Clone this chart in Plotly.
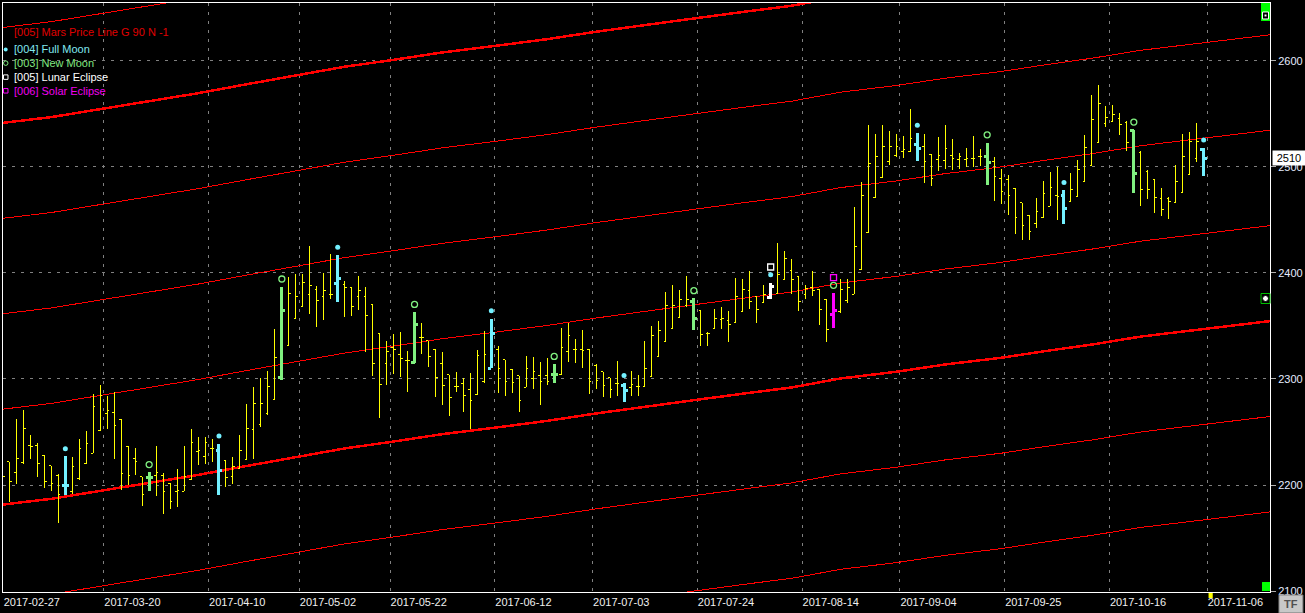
import plotly.graph_objects as go

# ---------------- data ----------------
open_ = [2222, 2222, 2212, 2221, 2237, 2237, 2228, 2218, 2209, 2200,
         2194, 2206, 2220, 2230, 2251, 2267, 2268, 2262, 2236, 2225,
         2208, 2207, 2209, 2209, 2201, 2194, 2194, 2205, 2232, 2227,
         2234, 2233, 2223, 2208, 2216, 2224, 2252, 2257, 2267, 2281,
         2301, 2332, 2357, 2368, 2380, 2384, 2378, 2380, 2390, 2389,
         2386, 2378, 2378, 2370, 2343, 2315, 2330, 2323, 2317, 2316,
         2339, 2336, 2328, 2315, 2304, 2293, 2296, 2290, 2285, 2298,
         2310, 2328, 2318, 2309, 2303, 2292, 2300, 2303, 2303, 2304,
         2304, 2326, 2328, 2328, 2328, 2313, 2307, 2301, 2296, 2294,
         2292, 2293, 2293, 2302, 2321, 2335, 2348, 2358, 2369, 2373,
         2365, 2343, 2348, 2356, 2355, 2353, 2364, 2383, 2378, 2372,
         2377, 2381, 2394, 2402, 2397, 2380, 2386, 2384, 2375, 2361,
         2364, 2374, 2380, 2403, 2438, 2471, 2490, 2505, 2511, 2515,
         2515, 2521, 2519, 2512, 2507, 2506, 2511, 2507, 2507, 2508,
         2510, 2510, 2505, 2489, 2488, 2480, 2466, 2454, 2447, 2452,
         2463, 2473, 2473, 2467, 2472, 2486, 2501, 2523, 2541, 2543,
         2546, 2542, 2534, 2514, 2496, 2488, 2470, 2470, 2466, 2476,
         2493, 2508, 2516]
high = [2234, 2222, 2262, 2271, 2247, 2240, 2228, 2218, 2210, 2227,
        2226, 2243, 2251, 2286, 2294, 2284, 2288, 2262, 2237, 2235,
        2208, 2212, 2237, 2211, 2202, 2215, 2237, 2253, 2245, 2245,
        2243, 2239, 2224, 2226, 2247, 2276, 2292, 2301, 2308, 2347,
        2387, 2396, 2399, 2399, 2425, 2388, 2400, 2418, 2417, 2392,
        2387, 2397, 2387, 2370, 2343, 2336, 2342, 2344, 2326, 2363,
        2353, 2336, 2328, 2325, 2304, 2307, 2301, 2306, 2327, 2345,
        2357, 2331, 2318, 2309, 2303, 2322, 2321, 2316, 2320, 2314,
        2348, 2353, 2338, 2346, 2328, 2314, 2307, 2301, 2317, 2296,
        2308, 2304, 2336, 2350, 2355, 2382, 2389, 2384, 2397, 2376,
        2365, 2344, 2366, 2368, 2364, 2395, 2394, 2402, 2378, 2389,
        2391, 2428, 2421, 2413, 2397, 2389, 2402, 2384, 2375, 2381,
        2394, 2394, 2462, 2486, 2540, 2531, 2540, 2534, 2531, 2529,
        2555, 2532, 2531, 2512, 2528, 2540, 2526, 2513, 2518, 2529,
        2517, 2523, 2509, 2498, 2492, 2480, 2466, 2455, 2471, 2487,
        2495, 2500, 2478, 2494, 2507, 2530, 2568, 2577, 2557, 2558,
        2551, 2543, 2535, 2515, 2497, 2488, 2480, 2472, 2502, 2531,
        2533, 2541, 2518]
low = [2200, 2184, 2201, 2220, 2225, 2208, 2197, 2194, 2164, 2191,
       2192, 2205, 2220, 2230, 2251, 2253, 2225, 2195, 2200, 2209,
       2180, 2194, 2190, 2173, 2177, 2179, 2194, 2205, 2219, 2220,
       2222, 2191, 2198, 2201, 2215, 2224, 2225, 2255, 2266, 2280,
       2299, 2332, 2357, 2368, 2361, 2349, 2356, 2375, 2373, 2358,
       2359, 2365, 2325, 2303, 2263, 2294, 2305, 2302, 2288, 2315,
       2324, 2311, 2283, 2275, 2265, 2288, 2269, 2253, 2285, 2296,
       2310, 2287, 2284, 2287, 2269, 2292, 2291, 2275, 2294, 2296,
       2304, 2316, 2315, 2310, 2286, 2291, 2283, 2282, 2284, 2278,
       2284, 2284, 2292, 2302, 2321, 2335, 2348, 2358, 2368, 2346,
       2331, 2331, 2348, 2347, 2335, 2353, 2364, 2366, 2353, 2372,
       2375, 2381, 2394, 2380, 2364, 2375, 2378, 2351, 2335, 2348,
       2362, 2372, 2380, 2403, 2438, 2471, 2490, 2502, 2509, 2508,
       2514, 2506, 2485, 2482, 2496, 2498, 2497, 2498, 2500, 2500,
       2501, 2483, 2468, 2465, 2455, 2437, 2431, 2431, 2442, 2452,
       2463, 2450, 2446, 2467, 2472, 2486, 2501, 2523, 2538, 2542,
       2530, 2515, 2475, 2463, 2470, 2457, 2454, 2451, 2466, 2476,
       2493, 2505, 2491]
close = [2208, 2203, 2225, 2253, 2236, 2220, 2203, 2201, 2191, 2200,
         2217, 2234, 2239, 2274, 2284, 2270, 2256, 2211, 2209, 2222,
         2191, 2207, 2212, 2194, 2184, 2195, 2208, 2240, 2233, 2240,
         2234, 2214, 2207, 2217, 2233, 2253, 2277, 2277, 2293, 2320,
         2365, 2381, 2378, 2391, 2388, 2374, 2383, 2380, 2395, 2386,
         2368, 2383, 2360, 2315, 2295, 2326, 2328, 2319, 2317, 2351,
         2339, 2321, 2301, 2294, 2283, 2293, 2284, 2280, 2322, 2323,
         2343, 2310, 2298, 2297, 2280, 2310, 2307, 2298, 2298, 2304,
         2330, 2341, 2328, 2327, 2298, 2299, 2294, 2290, 2296, 2289,
         2295, 2293, 2310, 2341, 2346, 2369, 2369, 2375, 2375, 2357,
         2342, 2343, 2357, 2357, 2351, 2378, 2384, 2373, 2366, 2380,
         2387, 2399, 2414, 2394, 2373, 2385, 2383, 2366, 2347, 2365,
         2384, 2386, 2425, 2473, 2503, 2510, 2519, 2519, 2519, 2516,
         2527, 2517, 2505, 2489, 2511, 2517, 2508, 2510, 2508, 2508,
         2510, 2504, 2491, 2477, 2473, 2452, 2445, 2439, 2458, 2475,
         2481, 2472, 2461, 2479, 2498, 2518, 2545, 2560, 2547, 2549,
         2540, 2523, 2494, 2479, 2479, 2471, 2460, 2467, 2486, 2510,
         2524, 2524, 2508]

full_moon_idx = [9, 31, 48, 70, 89, 110, 131, 152, 172]
new_moon_idx = [21, 40, 59, 79, 99, 119, 141, 162]
lunar_eclipse_idx = [110]
solar_eclipse_idx = [119]

tick_pos = [0.1, 14.5, 29.5, 42.5, 55.5, 70.5, 84.5, 99.5, 114.5, 128.5,
            143.5, 158.5, 172.5]
tick_labels = ["2017-02-27", "2017-03-20", "2017-04-10", "2017-05-02",
               "2017-05-22", "2017-06-12", "2017-07-03", "2017-07-24",
               "2017-08-14", "2017-09-04", "2017-09-25", "2017-10-16",
               "2017-11-06"]
price_ticks = [2100, 2200, 2300, 2400, 2500, 2600]
last_price_label = "2510"

mars_idx = [0, 7, 14, 21, 28, 35, 42, 49, 56, 63, 71, 78, 85, 92, 99, 107,
            113, 120, 128, 135, 143, 149, 156, 163, 170, 178, 182]
mars_base = [2181.5, 2187, 2194.5, 2202, 2209.5, 2218, 2226, 2234.5, 2241,
             2248, 2254.5, 2260.5, 2267.5, 2274, 2280, 2287, 2292, 2300.5,
             2306.8, 2313.7, 2320, 2326, 2332.5, 2340, 2345.5, 2352, 2355]
mars_step = 90
mars_harmonics = [-2, -1, 0, 1, 2, 3, 4, 5]

# ---------------- layout constants ----------------
W, H = 1305, 613
ML, MR, MT, MB = 2, 33, 2, 21
PW, PH = W - ML - MR, H - MT - MB
BAR_PX = 7.0
X0 = 0.5 / BAR_PX
X1 = X0 + PW / BAR_PX
Y0, Y1 = 2099.1, 2654.6
FONT = "Liberation Sans, Arial, sans-serif"

YELLOW = "#FFFF00"
CYAN = "#73F0FF"
GREEN = "#80F080"
WHITE = "#FFFFFF"
MAGENTA = "#FF00FF"
RED = "#FF0000"
GRID = "#808080"


def pxx(x):
    return (x - ML) / PW


def pxy(y):
    return (H - MB - y) / PH


def ohlc_xy(idx, tick):
    xs, ys = [], []
    for i in idx:
        xs += [i, i, None, i - tick, i, None, i, i + tick, None]
        ys += [low[i], high[i], None, open_[i], open_[i], None,
               close[i], close[i], None]
    return xs, ys


fig = go.Figure()

# Mars price lines
for n in mars_harmonics:
    fig.add_trace(go.Scatter(
        x=mars_idx, y=[b + n * mars_step for b in mars_base],
        mode="lines", line=dict(color=RED, width=2.5 if n % 4 == 0 else 1),
        hoverinfo="skip", showlegend=False))

special = set(full_moon_idx) | set(new_moon_idx) | set(lunar_eclipse_idx) | set(solar_eclipse_idx)
normal_idx = [i for i in range(len(close)) if i not in special]
fm_bars = [i for i in full_moon_idx if i not in lunar_eclipse_idx]
nm_bars = [i for i in new_moon_idx if i not in solar_eclipse_idx]

xs, ys = ohlc_xy(normal_idx, 0.3)
fig.add_trace(go.Scatter(x=xs, y=ys, mode="lines",
                         line=dict(color=YELLOW, width=1), hoverinfo="skip",
                         showlegend=False))
for idx, col in [(fm_bars, CYAN), (nm_bars, GREEN),
                 (lunar_eclipse_idx, WHITE), (solar_eclipse_idx, MAGENTA)]:
    xs, ys = ohlc_xy(idx, 0.5)
    fig.add_trace(go.Scatter(x=xs, y=ys, mode="lines",
                             line=dict(color=col, width=3), hoverinfo="skip",
                             showlegend=False))

GAP = 7.3
moon = set(full_moon_idx) | set(new_moon_idx)
fig.add_trace(go.Scatter(
    x=full_moon_idx, y=[high[i] + GAP for i in full_moon_idx], mode="markers",
    marker=dict(symbol="circle", size=5, color=CYAN, line=dict(width=0)),
    hoverinfo="skip", showlegend=False))
fig.add_trace(go.Scatter(
    x=new_moon_idx, y=[high[i] + GAP for i in new_moon_idx], mode="markers",
    marker=dict(symbol="circle-open", size=6, color=GREEN,
                line=dict(width=1.3, color=GREEN)),
    hoverinfo="skip", showlegend=False))
for idx, col in [(lunar_eclipse_idx, WHITE), (solar_eclipse_idx, MAGENTA)]:
    fig.add_trace(go.Scatter(
        x=idx, y=[high[i] + GAP * (2 if i in moon else 1) for i in idx],
        mode="markers",
        marker=dict(symbol="square-open", size=6, color=col,
                    line=dict(width=1.3, color=col)),
        hoverinfo="skip", showlegend=False))

# ---------------- decorations ----------------
shapes = []
annotations = []

legend_rows = [
    ("[005] Mars Price Line G 90 N -1", "#E00000", 30.7, None),
    ("[004] Full Moon", "#80E8F0", 48.5, "dot"),
    ("[003] New Moon", "#80E880", 62.3, "circle"),
    ("[005] Lunar Eclipse", WHITE, 76.3, "square_w"),
    ("[006] Solar Eclipse", "#F000F0", 90.0, "square_m"),
]
for text, col, yy, mk in legend_rows:
    annotations.append(dict(
        text=text, xref="paper", yref="paper", x=pxx(11), y=pxy(yy),
        xanchor="left", yanchor="middle", showarrow=False,
        font=dict(family=FONT, size=11, color=col)))
    if mk == "dot":
        shapes.append(dict(type="circle", xref="paper", yref="paper",
                           x0=pxx(2.7), x1=pxx(6.7), y0=pxy(50.5), y1=pxy(46.5),
                           fillcolor=CYAN, line=dict(width=0)))
    elif mk == "circle":
        shapes.append(dict(type="circle", xref="paper", yref="paper",
                           x0=pxx(2.5), x1=pxx(7), y0=pxy(64.5), y1=pxy(60),
                           line=dict(color=GREEN, width=1)))
    elif mk in ("square_w", "square_m"):
        c = WHITE if mk == "square_w" else MAGENTA
        shapes.append(dict(type="rect", xref="paper", yref="paper",
                           x0=pxx(2.5), x1=pxx(7), y0=pxy(yy + 2.2), y1=pxy(yy - 2.3),
                           line=dict(color=c, width=1)))

# right-side widgets
shapes.append(dict(type="rect", xref="paper", yref="paper",
                   x0=pxx(1263), x1=pxx(1272), y0=pxy(20), y1=pxy(2),
                   fillcolor="#00FF00", line=dict(width=0)))
shapes.append(dict(type="rect", xref="paper", yref="paper",
                   x0=pxx(1264.5), x1=pxx(1270.5), y0=pxy(18), y1=pxy(11),
                   fillcolor="#000000", line=dict(color=WHITE, width=1)))
shapes.append(dict(type="rect", xref="paper", yref="paper",
                   x0=pxx(1266.5), x1=pxx(1268.5), y0=pxy(15.5), y1=pxy(13.5),
                   fillcolor=WHITE, line=dict(width=0)))
shapes.append(dict(type="rect", xref="paper", yref="paper",
                   x0=pxx(1263), x1=pxx(1272), y0=pxy(303), y1=pxy(293),
                   fillcolor="#000000", line=dict(color="#00C000", width=1)))
shapes.append(dict(type="circle", xref="paper", yref="paper",
                   x0=pxx(1264.5), x1=pxx(1270.5), y0=pxy(301), y1=pxy(295),
                   fillcolor=WHITE, line=dict(color="#000000", width=1)))
shapes.append(dict(type="rect", xref="paper", yref="paper",
                   x0=pxx(1264), x1=pxx(1272), y0=pxy(591), y1=pxy(582),
                   fillcolor="#00FF00", line=dict(width=0)))
# current-bar marker on the time axis
shapes.append(dict(type="rect", xref="x", yref="paper",
                   x0=len(close) - 0.3, x1=len(close) + 0.3,
                   y0=pxy(598), y1=pxy(593),
                   fillcolor=YELLOW, line=dict(width=0)))
# TF button
shapes.append(dict(type="rect", xref="paper", yref="paper",
                   x0=pxx(1281), x1=pxx(1305), y0=pxy(613), y1=pxy(595),
                   fillcolor="#C8C8C8", line=dict(color="#808080", width=1)))
annotations.append(dict(text="<b>TF</b>", xref="paper", yref="paper",
                        x=pxx(1293), y=pxy(604.5), xanchor="center",
                        yanchor="middle", showarrow=False,
                        font=dict(family=FONT, size=11, color="#505050")))
# last price box
annotations.append(dict(text=last_price_label, xref="paper", yref="y",
                        x=pxx(1274), y=close[-1], xanchor="left",
                        yanchor="middle", showarrow=False, bgcolor=WHITE,
                        borderpad=1, width=30,
                        font=dict(family=FONT, size=11, color="#000000")))

fig.update_layout(
    width=W, height=H,
    margin=dict(l=ML, r=MR, t=MT, b=MB, pad=0),
    paper_bgcolor="#000000", plot_bgcolor="#000000",
    showlegend=False,
    shapes=shapes, annotations=annotations,
    xaxis=dict(
        range=[X0, X1], tickmode="array", tickvals=tick_pos,
        ticktext=tick_labels, ticks="", ticklabelposition="outside right",
        tickfont=dict(family=FONT, size=11, color="#F0F0F0"),
        showgrid=True, gridcolor=GRID, griddash="3px,6px", gridwidth=1,
        showline=True, linecolor=WHITE, linewidth=1, mirror=True,
        zeroline=False, fixedrange=True),
    yaxis=dict(
        range=[Y0, Y1], side="right", tickmode="array", tickvals=price_ticks,
        ticks="outside", ticklen=5, tickcolor="#B0B0B0",
        tickfont=dict(family=FONT, size=11, color="#E6ECFF"),
        showgrid=True, gridcolor=GRID, griddash="3px,6px", gridwidth=1,
        showline=True, linecolor=WHITE, linewidth=1, mirror=True,
        zeroline=False, fixedrange=True),
)

fig.write_html("out.html", include_plotlyjs=True,
               config={"displayModeBar": False},
               post_script="document.body.style.margin='0';"
                           "document.body.style.overflow='hidden';"
                           "document.body.style.background='#000';"
                           "var st=document.createElement('style');"
                           "st.innerHTML='.scatterlayer .js-line{shape-rendering:crispEdges}';"
                           "document.head.appendChild(st);")
